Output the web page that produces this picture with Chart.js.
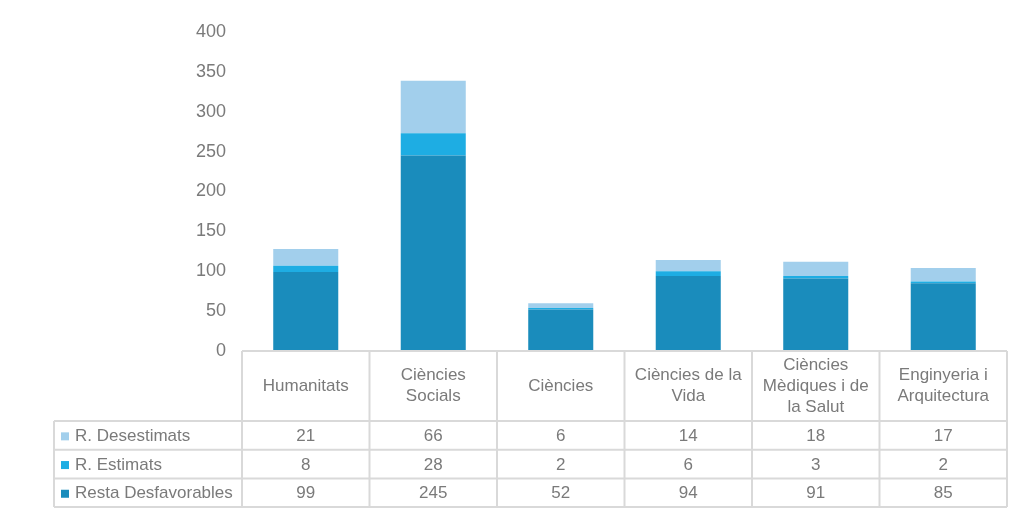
<!DOCTYPE html>
<html>
<head>
<meta charset="utf-8">
<script src="https://cdn.jsdelivr.net/npm/chart.js@4/dist/chart.umd.min.js"></script>
<style>
html,body{margin:0;padding:0;background:#fff;}
#wrap{width:1017px;height:513px;position:relative;}
</style>
</head>
<body>
<div id="wrap"><canvas id="c" width="1017" height="513"></canvas></div>
<script>
const categories = [
  ["Humanitats"],
  ["Ciències", "Socials"],
  ["Ciències"],
  ["Ciències de la", "Vida"],
  ["Ciències", "Mèdiques i de", "la Salut"],
  ["Enginyeria i", "Arquitectura"]
];
const restaDesfavorables = [99, 245, 52, 94, 91, 85];
const rEstimats = [8, 28, 2, 6, 3, 2];
const rDesestimats = [21, 66, 6, 14, 18, 17];
const seriesNames = ["Resta Desfavorables", "R. Estimats", "R. Desestimats"];
const seriesColors = ["#1A8CBC", "#1EADE3", "#A2CFEC"];
const yTicks = [0, 50, 100, 150, 200, 250, 300, 350, 400];

const FONT = "'Liberation Sans', Arial, sans-serif";
const TXT = "#7a7a7a";
const LINE = "#d9d9d9";

const tablePlugin = {
  id: 'dataTable',
  afterDraw(chart) {
    const ctx = chart.ctx;
    const xs = chart.scales.x;
    const area = chart.chartArea;
    const n = categories.length;
    const cw = (area.right - area.left) / n;
    const top = area.bottom;
    const headerH = 70;
    const rowH = 28.7;
    const leftX = 54;
    const rows = [
      {name: seriesNames[2], color: seriesColors[2], data: rDesestimats},
      {name: seriesNames[1], color: seriesColors[1], data: rEstimats},
      {name: seriesNames[0], color: seriesColors[0], data: restaDesfavorables}
    ];
    const bottom = top + headerH + rowH * rows.length;
    ctx.save();
    ctx.strokeStyle = LINE;
    ctx.lineWidth = 2;
    ctx.beginPath();
    ctx.moveTo(area.left, top); ctx.lineTo(area.right, top);
    for (let r = 0; r <= rows.length; r++) {
      const y = top + headerH + r * rowH;
      ctx.moveTo(leftX, y); ctx.lineTo(area.right, y);
    }
    for (let i = 0; i <= n; i++) {
      const x = i < n ? xs.getPixelForValue(i) - cw / 2 : xs.getPixelForValue(n - 1) + cw / 2;
      ctx.moveTo(x, top); ctx.lineTo(x, bottom);
    }
    ctx.moveTo(leftX, top + headerH); ctx.lineTo(leftX, bottom);
    ctx.stroke();

    ctx.fillStyle = TXT;
    ctx.font = "17px " + FONT;
    ctx.textAlign = "center";
    ctx.textBaseline = "middle";
    const lh = 21;
    for (let i = 0; i < n; i++) {
      const cx = xs.getPixelForValue(i);
      const lines = categories[i];
      const cy = top + headerH / 2;
      lines.forEach((l, k) => {
        ctx.fillText(l, cx, cy + (k - (lines.length - 1) / 2) * lh);
      });
    }
    rows.forEach((row, r) => {
      const cy = top + headerH + r * rowH + rowH / 2 + 1;
      ctx.fillStyle = row.color;
      ctx.fillRect(61, cy - 4, 8, 8);
      ctx.fillStyle = TXT;
      ctx.textAlign = "left";
      ctx.fillText(row.name, 75, cy);
      ctx.textAlign = "center";
      row.data.forEach((v, i) => {
        ctx.fillText(String(v), xs.getPixelForValue(i), cy);
      });
    });
    ctx.restore();
  }
};

new Chart(document.getElementById('c'), {
  type: 'bar',
  data: {
    labels: categories.map(c => c.join(' ')),
    datasets: [
      {label: seriesNames[0], data: restaDesfavorables, backgroundColor: seriesColors[0]},
      {label: seriesNames[1], data: rEstimats, backgroundColor: seriesColors[1]},
      {label: seriesNames[2], data: rDesestimats, backgroundColor: seriesColors[2]}
    ]
  },
  options: {
    responsive: false,
    animation: false,
    events: [],
    layout: {padding: {top: 32, bottom: 162, right: 10, left: 0}},
    datasets: {bar: {categoryPercentage: 1, barPercentage: 0.51}},
    plugins: {legend: {display: false}, tooltip: {enabled: false}},
    scales: {
      x: {stacked: true, display: false},
      y: {
        stacked: true, min: 0, max: 400,
        afterFit(s) { s.width = 242; },
        afterBuildTicks(s) { s.ticks = yTicks.map(v => ({value: v})); },
        grid: {display: false, drawTicks: false},
        border: {display: false},
        ticks: {padding: 16, color: TXT, font: {family: FONT, size: 18}}
      }
    }
  },
  plugins: [tablePlugin]
});
</script>
</body>
</html>
